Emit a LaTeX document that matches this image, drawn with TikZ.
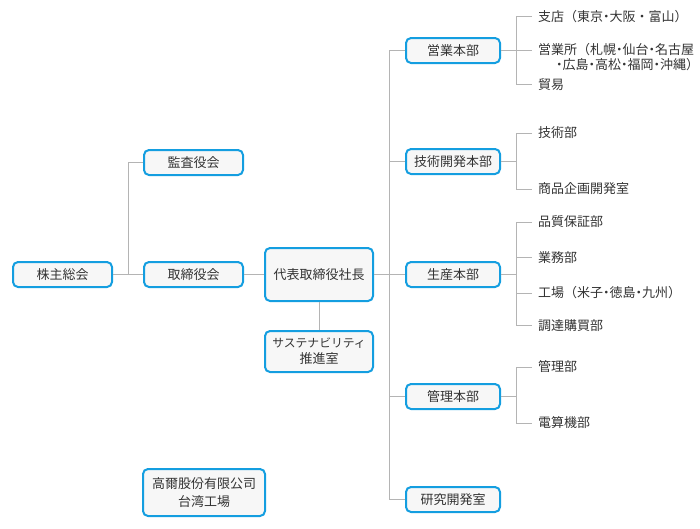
\documentclass[tikz,border=0pt]{standalone}
\usepackage{fontspec}
\newfontfamily\cjk{Noto Sans CJK JP}
\definecolor{boxblue}{RGB}{20,158,224}
\definecolor{boxfill}{RGB}{247,247,247}
\definecolor{linegray}{RGB}{180,180,180}
\definecolor{txt}{RGB}{51,51,51}
\newcommand\nd{\hbox to 0.5em{\hss ・\hss}}
\newcommand\rp{\hbox to 0.5em{）\hss}}
\begin{document}
\begin{tikzpicture}[x=1pt,y=-1pt,
  box/.style={draw=boxblue, line width=2pt, fill=boxfill, rounded corners=5pt,
    text=txt, font=\cjk\fontsize{13}{16}\selectfont, inner sep=0pt, align=center},
  one/.style={text height=11.4pt, text depth=1.6pt},
  hq/.style={box, one, minimum width=94pt, minimum height=25pt},
  conn/.style={draw=linegray, line width=1pt},
  item/.style={anchor=west, text=txt, font=\cjk\fontsize{13}{16}\selectfont,
    inner sep=0pt, text height=11.4pt, text depth=1.6pt}]
\useasboundingbox (0,0) rectangle (700,528);

% left side
\node[box, one, minimum width=99pt, minimum height=25pt] (kabu) at (62.5,274.5) {株主総会};
\node[box, one, minimum width=99pt, minimum height=25pt] (kansa) at (193.5,162.5) {監査役会};
\node[box, one, minimum width=99pt, minimum height=25pt] (tori) at (193.5,274.5) {取締役会};
\node[box, one, minimum width=108pt, minimum height=53pt] (daihyo) at (319,274.5) {代表取締役社長};
\node[box, minimum width=108pt, minimum height=41pt] (sus) at (319,351.5) {{\fontsize{11.8}{16}\selectfont サステナビリティ}\\推進室};
\node[box, minimum width=122pt, minimum height=47pt, font=\cjk\fontsize{13}{18}\selectfont] (tw) at (204,492.5) {高爾股份有限公司\\台湾工場};

% headquarters
\node[hq] (eigyo) at (453,50.5) {営業本部};
\node[hq] (giken) at (453,161.5) {技術開発本部};
\node[hq] (seisan) at (453,274.5) {生産本部};
\node[hq] (kanri) at (453,396.5) {管理本部};
\node[hq] (kenkyu) at (453,499.5) {研究開発室};

% items
\node[item] (e1) at (538,16.5) {支店（東京\nd 大阪・富山\rp};
\node[item] (e2) at (538,50) {営業所（札幌\nd 仙台\nd 名古屋};
\node[item] (e2b) at (556,65) {\nd 広島\nd 高松\nd 福岡\nd 沖縄\rp};
\node[item] (e3) at (538,84.5) {貿易};
\node[item] (g1) at (538,133) {技術部};
\node[item] (g2) at (538,189) {商品企画開発室};
\node[item] (s1) at (538,222) {品質保証部};
\node[item] (s2) at (538,257.5) {業務部};
\node[item] (s3) at (538,293) {工場（米子\nd 徳島\nd 九州\rp};
\node[item] (s4) at (538,325.5) {調達購買部};
\node[item] (k1) at (538,367) {管理部};
\node[item] (k2) at (538,423) {電算機部};

% left connectors
\coordinate (j1) at (128,274.5);
\draw[conn] (kabu.east) -- (tori.west);
\draw[conn] (kansa.west) -| (j1);
\draw[conn] (tori.east) -- (daihyo.west);
\draw[conn] (daihyo.south) -- (sus.north);

% trunk
\coordinate (ttop) at (389,50.5);
\coordinate (tbot) at (389,499.5);
\draw[conn] (daihyo.east) -- (seisan.west);
\draw[conn] (eigyo.west) -- (ttop) -- (tbot) -- (kenkyu.west);
\draw[conn] (giken.west) -- (giken.west -| ttop);
\draw[conn] (kanri.west) -- (kanri.west -| ttop);

% right connectors
\coordinate (rx) at (516,0);
\coordinate (ex) at (532,0);
\draw[conn] (eigyo.east) -- (eigyo.east -| rx);
\draw[conn] (e1.west -| ex) -| (e3.west -| rx) -- (e3.west -| ex);
\draw[conn] (e2.west -| rx) -- (e2.west -| ex);
\draw[conn] (giken.east) -- (giken.east -| rx);
\draw[conn] (g1.west -| ex) -| (g2.west -| rx) -- (g2.west -| ex);
\draw[conn] (seisan.east) -- (seisan.east -| rx);
\draw[conn] (s1.west -| ex) -| (s4.west -| rx) -- (s4.west -| ex);
\draw[conn] (s2.west -| rx) -- (s2.west -| ex);
\draw[conn] (s3.west -| rx) -- (s3.west -| ex);
\draw[conn] (kanri.east) -- (kanri.east -| rx);
\draw[conn] (k1.west -| ex) -| (k2.west -| rx) -- (k2.west -| ex);
\end{tikzpicture}
\end{document}
